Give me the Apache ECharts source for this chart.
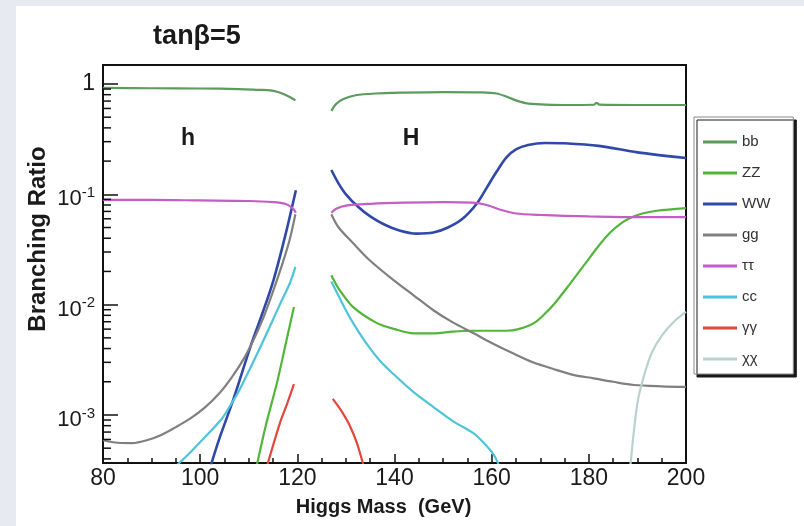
<!DOCTYPE html>
<html><head><meta charset="utf-8">
<script src="https://cdn.jsdelivr.net/npm/echarts@6/dist/echarts.min.js"></script>
<style>
html,body{margin:0;padding:0;background:#e7eaf0;width:804px;height:526px;overflow:hidden;}
#c{position:absolute;left:16px;top:6px;width:788px;height:520px;background:#fff;}
</style>
</head><body><div id="c"></div>
<script>
// ---- data (x = Higgs mass GeV, y = branching ratio) ----
const bb_h  = [[80,0.92],[90,0.915],[100,0.91],[108,0.9],[112,0.885],[114.4,0.875],[116,0.845],[117.5,0.8],[118.7,0.75],[119.6,0.71]];
const bb_H  = [[127,0.57],[128,0.66],[129.5,0.73],[132,0.79],[136,0.82],[142,0.835],[150,0.845],[158,0.84],[161,0.82],[163,0.77],[165,0.71],[167,0.67],[170,0.652],[175,0.645],[181,0.648],[181.6,0.675],[182.2,0.65],[190,0.645],[200,0.645]];
const zz_h  = [[111.6,0.00034],[113.5,0.0008],[115.8,0.00195],[117.5,0.0042],[119.3,0.0095]];
const zz_H  = [[127,0.0185],[128.5,0.014],[131.5,0.0095],[136.4,0.0068],[140,0.006],[144,0.0055],[148,0.0055],[152,0.0057],[156,0.0058],[160,0.0058],[163,0.0058],[165.5,0.006],[168.7,0.0068],[171,0.0083],[173,0.0103],[176,0.0152],[179.4,0.024],[182,0.034],[184.4,0.045],[186.5,0.054],[188.5,0.061],[191,0.067],[194,0.071],[200,0.075]];
const ww_h  = [[102.2,0.00035],[104,0.00062],[106.8,0.00137],[110.3,0.0041],[113,0.0088],[115.1,0.0167],[117.5,0.042],[119.7,0.109]];
const ww_H  = [[127,0.166],[128.5,0.125],[130,0.1],[132.5,0.077],[135,0.063],[138,0.053],[141,0.047],[144.5,0.044],[148,0.045],[151,0.05],[154,0.06],[157,0.083],[159,0.115],[161,0.16],[163,0.215],[165,0.255],[167.5,0.28],[171,0.292],[175,0.29],[182,0.275],[190,0.24],[200,0.213]];
const gg_h  = [[80,0.00059],[83,0.00056],[86,0.000556],[89,0.00059],[92,0.00066],[95,0.000776],[98,0.00093],[101,0.00117],[104,0.00158],[106.5,0.00219],[109,0.00324],[111,0.0048],[113,0.0076],[115,0.0132],[117,0.024],[118.5,0.04],[119.6,0.066]];
const gg_H  = [[127,0.066],[128.5,0.05],[131.5,0.036],[135,0.025],[139.8,0.0167],[144,0.0121],[148,0.0089],[152,0.0069],[156.3,0.0055],[160,0.0045],[164.5,0.0036],[168.5,0.003],[172.8,0.0026],[177,0.0023],[181,0.00215],[185,0.002],[189.3,0.00187],[195,0.00182],[200,0.0018]];
const tt_h  = [[80,0.089],[90,0.089],[100,0.088],[110,0.087],[115,0.085],[117.5,0.082],[119,0.075],[119.7,0.068]];
const tt_H  = [[127,0.068],[128,0.074],[130,0.079],[135,0.082],[142,0.084],[150,0.085],[156,0.084],[159,0.08],[162,0.072],[165,0.067],[170,0.065],[180,0.063],[190,0.062],[200,0.062]];
const cc_h  = [[95.2,0.00035],[98,0.00046],[101,0.00063],[104.5,0.00093],[106.1,0.0012],[108,0.00166],[112,0.0038],[116.4,0.01],[118.5,0.0158],[119.6,0.022]];
const cc_H  = [[127,0.0162],[128.5,0.012],[130,0.0089],[131.5,0.0068],[134,0.0046],[137,0.0031],[140,0.0023],[144,0.0016],[148,0.00118],[152,0.00088],[156.3,0.00068],[158.5,0.00055],[160.5,0.00043],[161.5,0.00035]];
const yy_h  = [[113.8,0.00035],[116.4,0.00084],[118,0.0013],[119.3,0.0019]];
const yy_H  = [[127.3,0.0014],[129,0.0011],[130.8,0.0008],[132.3,0.00055],[133.6,0.00035]];
const xx_H  = [[188.5,0.00033],[189.3,0.00073],[190.1,0.00136],[191.4,0.0023],[193,0.0037],[195.1,0.0053],[197.5,0.0070],[200,0.0086]];

const seriesNames = ['bb','ZZ','WW','gg','ττ','cc','γγ','χχ'];
const xTickValues = [80,100,120,140,160,180,200];
const yTickExps = [0,-1,-2,-3];
const xMin = 80, xMax = 200, yMin = 3.67e-4, yMax = 1.486;

const FONT = '"Liberation Sans", Arial, Helvetica, sans-serif';
const colors = {bb:'#5c9a5e', ZZ:'#52b53a', WW:'#3048a8', gg:'#808080', 'ττ':'#c35ec4', cc:'#4ec4d8', 'γγ':'#e2473c', 'χχ':'#b8d2ce'};

function mk(name, h, H, w) {
  let data = h.slice();
  if (h.length && H.length) data.push([(h[h.length-1][0] + H[0][0]) / 2, '-']);
  data = data.concat(H);
  return {
    name, type:'line', data, showSymbol:false, symbol:'none', smooth:0.3,
    lineStyle:{color:colors[name], width:w || 2.2}, itemStyle:{color:colors[name]},
    emphasis:{disabled:true}, clip:true, z:3
  };
}

// minor tick values for the log axis (2..9 x 10^e)
const minorVals = [];
for (let e = -4; e <= 0; e++) for (let k = 2; k <= 9; k++) {
  const v = k * Math.pow(10, e);
  if (v > yMin && v < yMax) minorVals.push([xMin, v]);
}

const chart = echarts.init(document.getElementById('c'), null, {renderer:'canvas'});
chart.setOption({
  animation:false,
  backgroundColor:'#fff',
  textStyle:{fontFamily:FONT},
  grid:{left:87, right:118, top:59, bottom:63, show:true, borderColor:'#111', borderWidth:2, backgroundColor:'#fff'},
  graphic:[
    {type:'text', x:181, y:31, style:{text:'tanβ=5', font:'bold 27px ' + FONT, fill:'#1a1a1a', align:'center', verticalAlign:'middle'}},
    {type:'text', x:172, y:133, style:{text:'h', font:'bold 23px ' + FONT, fill:'#1a1a1a', align:'center', verticalAlign:'middle'}, z:10},
    {type:'text', x:395, y:133, style:{text:'H', font:'bold 23px ' + FONT, fill:'#1a1a1a', align:'center', verticalAlign:'middle'}, z:10},
    {type:'text', x:22, y:233, rotation:Math.PI/2, style:{text:'Branching Ratio', font:'bold 24px ' + FONT, fill:'#1a1a1a', align:'center', verticalAlign:'middle'}}
  ],
  legend:{
    orient:'vertical', left:678, top:111, icon:'rect', itemWidth:34, itemHeight:3, itemGap:15,
    padding:[17,23,7,9], backgroundColor:'#fff', borderColor:'#8a8a8a', borderWidth:1,
    shadowColor:'#1a1a1a', shadowOffsetX:3, shadowOffsetY:3, shadowBlur:0.01,
    textStyle:{fontSize:15, color:'#333', lineHeight:16, fontFamily:FONT},
    data:seriesNames, selectedMode:false
  },
  xAxis:{
    type:'value', min:xMin, max:xMax, interval:20,
    axisLine:{show:true, onZero:false, lineStyle:{color:'#111', width:2}},
    axisTick:{show:true, inside:true, length:9, lineStyle:{color:'#111', width:1.5}},
    minorTick:{show:true, splitNumber:4, length:5, lineStyle:{color:'#111', width:1.5}},
    splitLine:{show:false},
    axisLabel:{fontSize:23, color:'#1a1a1a', margin:4, fontFamily:FONT,
      formatter:v => xTickValues.indexOf(v) >= 0 ? String(v) : ''},
    name:'Higgs Mass  (GeV)', nameLocation:'middle', nameGap:34,
    nameTextStyle:{fontSize:20, fontWeight:'bold', color:'#1a1a1a', fontFamily:FONT, padding:[0,22,0,0]}
  },
  yAxis:{
    type:'log', logBase:10, min:yMin, max:yMax,
    axisLine:{show:true, lineStyle:{color:'#111', width:2}},
    axisTick:{show:true, inside:true, length:15, lineStyle:{color:'#111', width:1.5}},
    splitLine:{show:false},
    axisLabel:{
      margin:8, showMinLabel:false, showMaxLabel:false, color:'#1a1a1a',
      formatter:function(v){
        const e = Math.round(Math.log10(v));
        if (yTickExps.indexOf(e) < 0) return '';
        if (e === 0) return '{o|1}';
        return '{b|10}{s|' + e + '}';
      },
      rich:{
        o:{fontSize:23, fontFamily:FONT, color:'#1a1a1a'},
        b:{fontSize:22, fontFamily:FONT, color:'#1a1a1a', padding:[10,0,0,0]},
        s:{fontSize:15, fontFamily:FONT, color:'#1a1a1a', padding:[0,0,3,0]}
      }
    }
  },
  series:[
    mk('bb', bb_h, bb_H),
    mk('ZZ', zz_h, zz_H),
    mk('WW', ww_h, ww_H, 2.6),
    mk('gg', gg_h, gg_H),
    mk('ττ', tt_h, tt_H),
    mk('cc', cc_h, cc_H),
    mk('γγ', yy_h, yy_H),
    mk('χχ', [], xx_H),
    {
      type:'custom', name:'minorTicks', data:minorVals, silent:true, z:5,
      encode:{x:0, y:1},
      renderItem:function(params, api){
        const p = api.coord([api.value(0), api.value(1)]);
        return {type:'line', shape:{x1:p[0], y1:p[1], x2:p[0] + 8, y2:p[1]},
          style:{stroke:'#111', lineWidth:1.5}};
      }
    }
  ]
});
</script></body></html>
